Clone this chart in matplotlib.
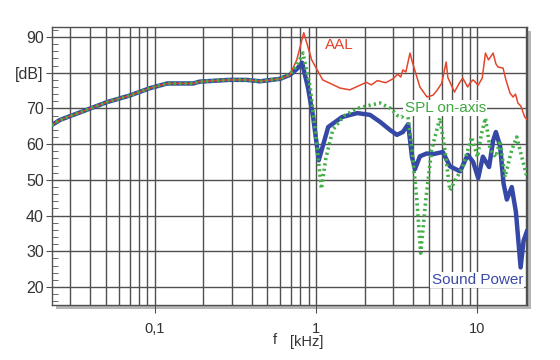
import matplotlib
matplotlib.use("Agg")
import matplotlib.pyplot as plt
from matplotlib.ticker import FixedLocator, MultipleLocator, NullFormatter, FixedFormatter
from matplotlib.patches import Rectangle

plt.rcParams['font.family'] = ['Liberation Sans', 'DejaVu Sans']

# shared low-frequency part (all three curves coincide here)
low_f = [0.023, 0.026, 0.038, 0.051, 0.07, 0.094, 0.12, 0.174, 0.19, 0.29, 0.37, 0.45, 0.6]
low_db = [65.3, 66.8, 69.6, 71.8, 73.6, 75.7, 77.0, 77.0, 77.5, 78.0, 78.0, 77.6, 78.3]

# Sound Power (blue)
sp_f = [0.69, 0.76, 0.82, 0.89, 0.96, 1.04, 1.19, 1.45, 1.8, 2.16, 2.5, 2.87, 3.17, 3.45,
        3.72, 3.93, 4.1, 4.4, 4.85, 5.3, 6.1, 6.75, 7.8, 8.7, 9.4, 10.1, 10.8, 11.8, 12.5,
        13.0, 13.8, 14.5, 15.2, 16.3, 17.3, 18.5, 19.3, 20.2]
sp_db = [79.4, 81.0, 82.8, 76.0, 67.6, 55.5, 64.8, 67.6, 68.7, 68.2, 66.2, 64.0, 62.6, 63.4,
         65.6, 56.4, 53.0, 56.6, 57.4, 57.2, 57.8, 53.8, 52.4, 57.0, 55.0, 50.5, 56.5, 53.6, 61.0,
         63.4, 59.5, 49.0, 44.5, 48.0, 41.0, 25.5, 33.0, 35.5]

# SPL on-axis (green, dotted)
spl_f = [0.69, 0.76, 0.83, 0.92, 1.0, 1.08, 1.15, 1.27, 1.5, 1.8, 2.2, 2.5, 2.9, 3.2, 3.4,
         3.65, 3.9, 4.2, 4.45, 4.8, 5.2, 5.85, 6.3, 6.75, 7.3, 8.1, 9.2, 10.0, 10.6, 11.2,
         12.0, 13.0, 13.8, 14.8, 16.3, 17.5, 18.8, 20.2]
spl_db = [79.6, 82.0, 85.5, 76.0, 62.0, 47.5, 56.0, 64.0, 68.0, 70.0, 71.0, 71.5, 70.0, 68.0, 67.6,
          70.4, 60.0, 45.0, 29.5, 45.0, 58.4, 67.3, 58.0, 47.0, 50.0, 53.6, 62.0, 56.4, 63.0, 67.3,
          58.4, 56.4, 61.0, 50.8, 58.4, 62.0, 56.4, 51.0]

# AAL (red)
aal_f = [0.69, 0.76, 0.84, 0.94, 1.1, 1.41, 1.62, 1.87, 2.05, 2.2, 2.4, 2.7, 3.0, 3.2, 3.35,
         3.45, 3.6, 3.82, 3.95, 4.4, 4.87, 5.3, 5.6, 6.0, 6.4, 6.55, 7.2, 7.7, 8.1, 8.7, 9.0,
         9.4, 10.1, 10.7, 11.2, 11.7, 12.5, 13.0, 13.4, 14.4, 15.0, 15.9, 16.6, 17.2, 17.8,
         18.6, 19.6, 20.2]
aal_db = [79.4, 83.6, 91.2, 83.6, 78.0, 75.7, 75.2, 76.5, 77.3, 76.6, 77.8, 77.2, 78.3, 79.6, 78.8,
          80.8, 80.2, 85.5, 83.0, 76.0, 73.2, 73.7, 75.0, 77.0, 83.0, 78.7, 74.6, 77.0, 78.5, 76.0,
          77.2, 78.0, 76.5, 78.5, 85.5, 83.6, 85.5, 82.5, 81.6, 81.3, 78.0, 74.3, 73.2, 74.0, 71.5,
          70.6, 67.6, 67.0]

xticks = [0.1, 1, 10]
xtick_labels = ["0,1", "1", "10"]
yticks = [20, 30, 40, 50, 60, 70, 80, 90]
ytick_labels = ["20", "30", "40", "50", "60", "70", "[dB]", "90"]

fig = plt.figure(figsize=(5.6, 3.6), dpi=100)
ax = fig.add_axes([0.093, 0.153, 0.848, 0.772])

# drop shadow behind the plot frame
pos = ax.get_position()
dx, dy = 4 / 560, 4 / 360
fig.patches.append(Rectangle((pos.x0 + dx, pos.y0 - dy), pos.width, pos.height,
                             transform=fig.transFigure, facecolor="#b5b5b5",
                             edgecolor="none", zorder=0))
ax.set_zorder(1)
ax.set_facecolor("white")

grid_c = "#505050"
ax.plot(low_f + sp_f, low_db + sp_db, color="#3548a6", lw=3.2, zorder=3, solid_joinstyle="round")
ax.plot(low_f + aal_f, low_db + aal_db, color="#e5452c", lw=1.1, zorder=4)
ax.plot(low_f + spl_f, low_db + spl_db, color="#43b047", lw=2.6, ls=(0, (0.6, 0.9)), zorder=5)

ax.set_xscale("log")
ax.set_xlim(0.0232, 20.25)
ax.set_ylim(15, 92.8)

ax.xaxis.set_major_locator(FixedLocator(xticks))
ax.xaxis.set_major_formatter(FixedFormatter(xtick_labels))
minor_x = [m * d for d in (0.01, 0.1, 1, 10) for m in range(2, 10)]
ax.xaxis.set_minor_locator(FixedLocator(minor_x))
ax.xaxis.set_minor_formatter(NullFormatter())
ax.yaxis.set_major_locator(FixedLocator(yticks))
ax.yaxis.set_major_formatter(FixedFormatter(ytick_labels))
ax.yaxis.set_minor_locator(MultipleLocator(2))

ax.grid(True, which="both", axis="x", color=grid_c, lw=1.0)
ax.grid(True, which="major", axis="y", color=grid_c, lw=1.0)
ax.set_axisbelow(True)

ax.tick_params(axis="y", which="major", direction="out", length=4, color=grid_c,
               labelsize=11.5, labelcolor="#333333", pad=2)
ax.tick_params(axis="y", which="minor", direction="in", length=4, color=grid_c)
ax.tick_params(axis="x", which="major", direction="out", length=6, color=grid_c,
               labelsize=10.5, labelcolor="#333333", pad=6)
ax.tick_params(axis="x", which="minor", length=0)
for s in ax.spines.values():
    s.set_color(grid_c)
    s.set_linewidth(1.0)

box = dict(facecolor="white", edgecolor="none", pad=1)
ax.text(1.13, 87.8, "AAL", color="#e5452c", fontsize=11, va="center", ha="left", zorder=6)
ax.text(3.55, 70.1, "SPL on-axis", color="#3fa843", fontsize=11, va="center", ha="left",
        bbox=box, zorder=6)
ax.text(5.2, 22.0, "Sound Power", color="#3a4aa8", fontsize=11, va="center", ha="left",
        bbox=box, zorder=6)

fig.text(275 / 560, 1 - 340 / 360, "f", fontsize=10.5, color="#333333", ha="center", va="center")
fig.text(307 / 560, 1 - 342 / 360, "[kHz]", fontsize=10.5, color="#333333", ha="center", va="center")

fig.savefig("out.png", dpi=100)
